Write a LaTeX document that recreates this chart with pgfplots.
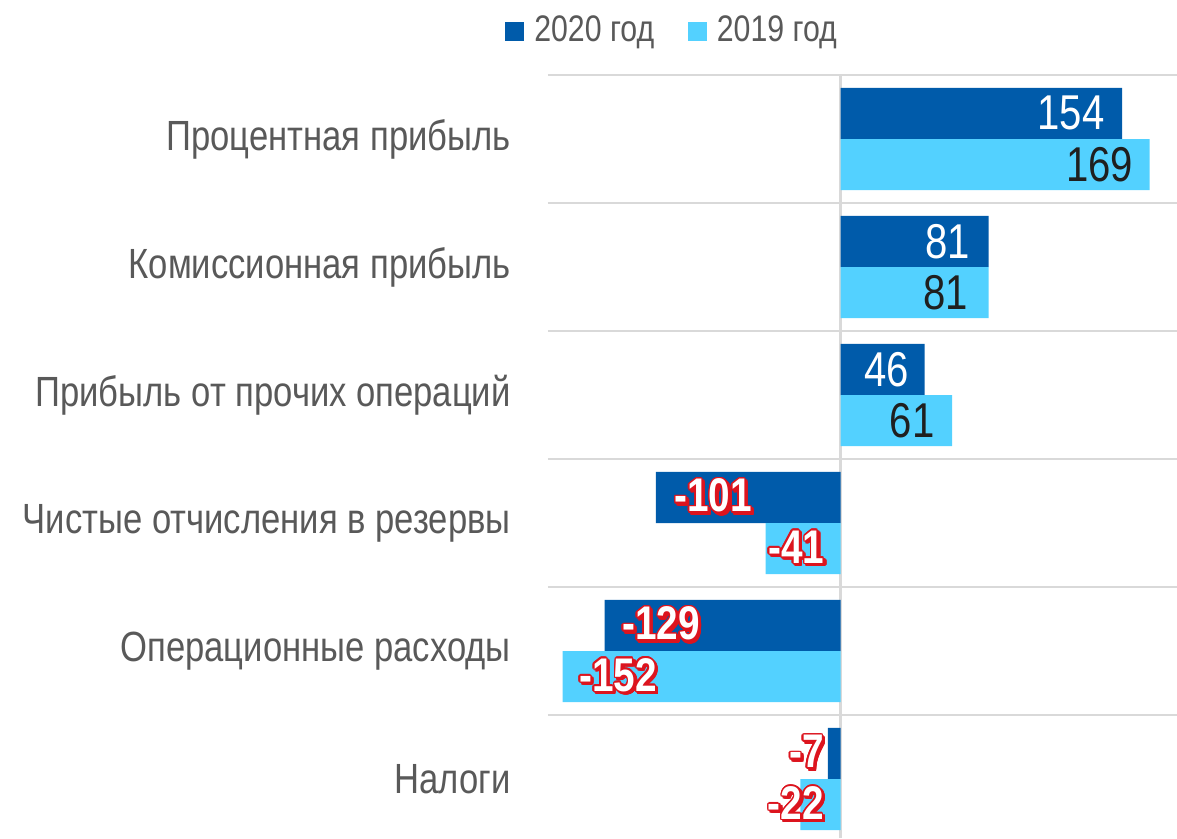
\documentclass[border=0pt]{standalone}
\usepackage{fontspec}
\setmainfont[FakeStretch=0.82]{Liberation Sans}
\usepackage{pgfplots}
\pgfplotsset{compat=1.18}
\usepackage{contour}
\contourlength{0.5pt}

\definecolor{dark}{RGB}{0,91,170}
\definecolor{light}{RGB}{83,209,255}
\definecolor{negred}{RGB}{220,20,30}
\definecolor{txt}{RGB}{89,89,89}
\definecolor{gridc}{RGB}{217,217,217}

% white figure, red rim, red shadow
\newcommand\neglab[1]{%
  \rlap{\kern0.8pt\raisebox{-0.8pt}{\contour{negred}{\textcolor{negred}{#1}}}}%
  \contour{negred}{\textcolor{white}{#1}}}

\begin{document}
\begin{tikzpicture}
\begin{axis}[
    name=ax, scale only axis,
    width=226.44pt, height=274.68pt,
    xmin=-160, xmax=184, ymin=-0.5, ymax=5.461, y dir=reverse,
    axis line style={draw=none}, tick style={draw=none},
    xtick=\empty, extra x ticks={0}, extra x tick labels={},
    extra x tick style={grid=major, major grid style={gridc, line width=1pt}},
    ytick={0,...,5},
    yticklabels={Процентная прибыль, Комиссионная прибыль, Прибыль от прочих операций,
                 Чистые отчисления в резервы, Операционные расходы, Налоги},
    minor ytick={-0.5,0.5,...,5.5}, yminorgrids,
    minor grid style={gridc, line width=1pt},
    yticklabel style={font=\fontsize{15.2}{18}\selectfont, text=txt, inner sep=0pt, xshift=-9pt},
    xbar, bar width=0.4,
    legend style={at={(0.2,1)}, anchor=center, yshift=15.8pt, draw=none,
        legend columns=2, font=\fontsize{13.3}{16}\selectfont, text=txt,
        /tikz/every odd column/.append style={column sep=1.6pt},
        /tikz/every even column/.append style={column sep=10pt}},
    legend image code/.code={\fill[#1] (0pt,-3.4pt) rectangle (6.9pt,3.4pt);},
    nodes near coords, point meta=x,
    visualization depends on={value \thisrow{dx} \as \dx},
    /pgf/number format/assume math mode=true,
]
\addplot[fill=dark, draw=none, bar shift=-0.2,
    every node near coord/.append style={anchor=east, inner sep=0pt, xshift=\dx*0.36pt,
        text=white, font=\fontsize{17.6}{20}\selectfont}]
    table[x=x, y=y] {
y x dx
0 154 -17
1 81 -18
2 46 -15
};
\addlegendentry{2020 год}
\addplot[fill=light, draw=none, bar shift=0.2,
    every node near coord/.append style={anchor=east, inner sep=0pt, xshift=\dx*0.36pt,
        text=black!88, font=\fontsize{17.6}{20}\selectfont}]
    table[x=x, y=y] {
y x dx
0 169 -16
1 81 -20
2 61 -17
};
\addlegendentry{2019 год}
\addplot[forget plot, fill=dark, draw=none, bar shift=-0.2,
    nodes near coords={\neglab{\pgfmathprintnumber{\pgfplotspointmeta}}},
    every node near coord/.append style={anchor=west, inner sep=0pt, xshift=\dx*0.36pt,
        font=\bfseries\fontsize{17}{20}\selectfont}]
    table[x=x, y=y] {
y x dx
3 -101 18
4 -129 17
5 -7 -39
};
\addplot[forget plot, fill=light, draw=none, bar shift=0.2,
    nodes near coords={\neglab{\pgfmathprintnumber{\pgfplotspointmeta}}},
    every node near coord/.append style={anchor=west, inner sep=0pt, xshift=\dx*0.36pt,
        font=\bfseries\fontsize{17}{20}\selectfont}]
    table[x=x, y=y] {
y x dx
3 -41 2
4 -152 16
5 -22 -33
};
\end{axis}
\pgfresetboundingbox
\path[use as bounding box] ([xshift=-197.28pt]ax.south west) rectangle ([yshift=27pt]ax.north east);
\end{tikzpicture}
\end{document}
